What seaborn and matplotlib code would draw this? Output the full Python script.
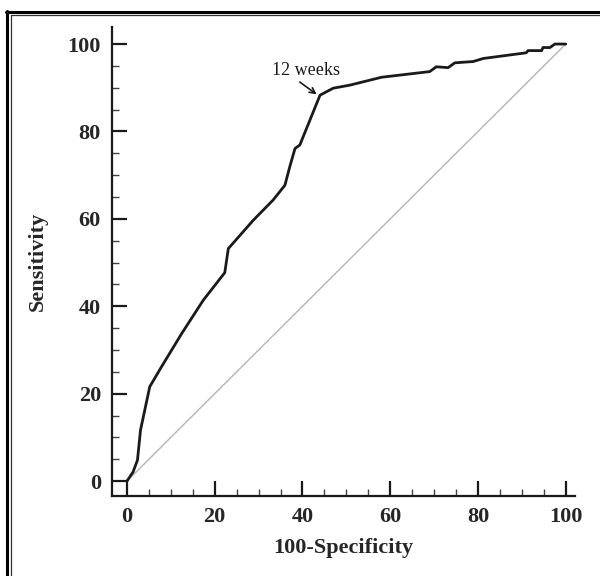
import numpy as np
import pandas as pd
import matplotlib
matplotlib.use("Agg")
import matplotlib.pyplot as plt
from matplotlib.lines import Line2D
from matplotlib.ticker import MultipleLocator
import seaborn as sns

# ROC curve (100-Specificity, Sensitivity)
fpr = [0, 1.4, 2.4, 3.1, 5.2, 7.9, 12.5, 17.4, 22.3, 23.1, 28.8, 33.3, 36.0,
       37.1, 38.3, 39.4, 44.0, 47.0, 50.8, 58.0, 69.0, 70.5, 73.2, 74.7,
       78.9, 81.2, 91.0, 91.4, 94.5, 94.8, 96.4, 97.5, 99.4, 100]
tpr = [0, 2.1, 4.8, 11.7, 21.6, 26.2, 33.8, 41.4, 47.7, 53.2, 59.7, 64.3, 67.7,
       71.9, 76.1, 76.9, 88.3, 89.9, 90.6, 92.4, 93.7, 94.8, 94.6, 95.7,
       96.0, 96.7, 98.0, 98.5, 98.5, 99.2, 99.2, 100.0, 100.0, 100]
ref_x = [0, 100]
ref_y = [0, 100]
note = "12 weeks"
note_x, note_y = 44.0, 88.3

df = pd.DataFrame({"fpr": fpr, "tpr": tpr})
df_ref = pd.DataFrame({"x": ref_x, "y": ref_y})

sns.set_style("ticks")
plt.rcParams["font.family"] = ["Liberation Serif", "DejaVu Serif"]

fig = plt.figure(figsize=(6, 5.76), dpi=100)
ax = fig.add_axes([112 / 600, 80 / 576, 463 / 600, 469 / 576])

sns.lineplot(data=df_ref, x="x", y="y", ax=ax, color="#b5b5b5", linewidth=1.0)
sns.lineplot(data=df, x="fpr", y="tpr", ax=ax, sort=False, color="#1a1a1a",
             linewidth=2.0)

ax.set_xlim(-3.4, 102.1)
ax.set_ylim(-3.4, 103.9)
ax.xaxis.set_major_locator(MultipleLocator(20))
ax.yaxis.set_major_locator(MultipleLocator(20))
ax.xaxis.set_minor_locator(MultipleLocator(5))
ax.yaxis.set_minor_locator(MultipleLocator(5))
ax.tick_params(which="major", direction="in", length=11, width=1.6,
               color="#1a1a1a", labelsize=16, pad=8)
ax.tick_params(which="minor", direction="in", length=5, width=1.0,
               color="#444444")
for lab in ax.get_xticklabels() + ax.get_yticklabels():
    lab.set_fontweight("bold")

sns.despine(ax=ax)
for s in ["left", "bottom"]:
    ax.spines[s].set_linewidth(1.6)
    ax.spines[s].set_color("#1a1a1a")

ax.set_xlabel("100-Specificity", fontsize=16, fontweight="bold", labelpad=8)
ax.set_ylabel("Sensitivity", fontsize=16, fontweight="bold", labelpad=14)

# label and arrow pointing at the 12-week cut-off
ax.text(note_x - 3.2, note_y + 5.7, note, fontsize=13, ha="center", va="center",
        color="#1a1a1a")
ax.annotate("", xy=(note_x - 0.5, note_y), xytext=(note_x - 4.6, note_y + 3.0),
            arrowprops=dict(arrowstyle="->", color="#1a1a1a", lw=1.2,
                            shrinkA=0, shrinkB=1))

# double frame along top and left of the figure
W, H = 600, 576
fig.add_artist(Line2D([6.5 / W, 6.5 / W], [0, 1 - 11 / H], transform=fig.transFigure,
                      color="black", linewidth=2.2))
fig.add_artist(Line2D([6 / W, 1], [1 - 11.5 / H, 1 - 11.5 / H], transform=fig.transFigure,
                      color="black", linewidth=2.2))
fig.add_artist(Line2D([10.5 / W, 10.5 / W], [0, 1 - 14.5 / H], transform=fig.transFigure,
                      color="#333333", linewidth=0.9))
fig.add_artist(Line2D([10.5 / W, 1], [1 - 14.5 / H, 1 - 14.5 / H], transform=fig.transFigure,
                      color="#333333", linewidth=0.9))

fig.savefig("out.png", dpi=100)
